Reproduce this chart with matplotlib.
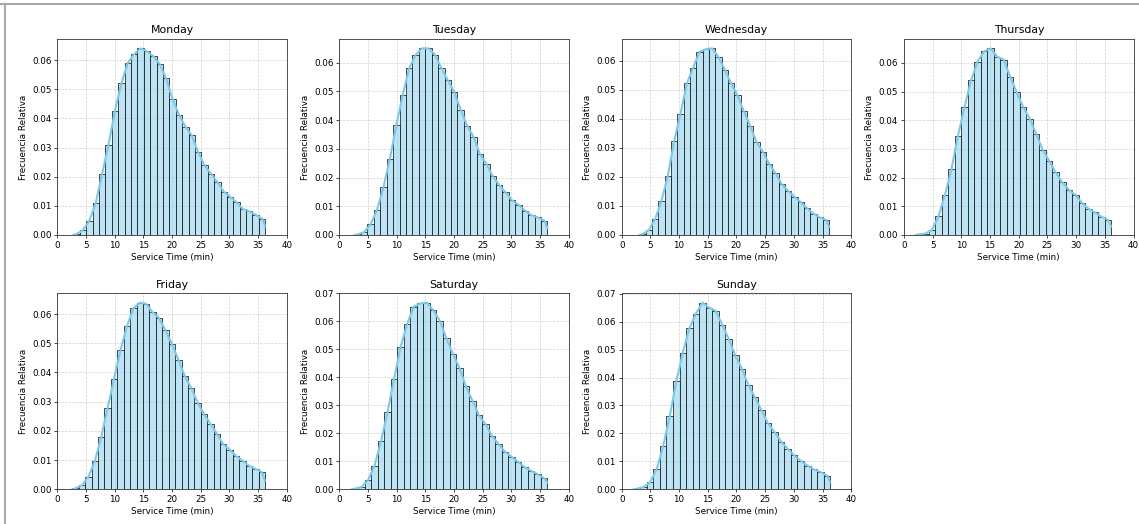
import matplotlib
matplotlib.use('Agg')
import matplotlib.pyplot as plt
from matplotlib.lines import Line2D
import numpy as np

days = ['Monday', 'Tuesday', 'Wednesday', 'Thursday', 'Friday', 'Saturday', 'Sunday']

# min / max service time per day (bin range), 30 bins each
t_min = [2.8, 2.65, 3.08, 2.03, 2.62, 2.15, 2.09]
t_max = [36.25, 36.28, 36.16, 36.1, 36.2, 36.28, 36.35]

# relative frequency (density) per bin
monday = [0.0003, 0.0017, 0.0049, 0.011, 0.021, 0.031, 0.0426, 0.052, 0.059, 0.062,
          0.064, 0.063, 0.0613, 0.0586, 0.0537, 0.0466, 0.0413, 0.0372, 0.0342, 0.0284,
          0.0239, 0.021, 0.0182, 0.0149, 0.0131, 0.0112, 0.0089, 0.0081, 0.0069, 0.0056]
tuesday = [0.0002, 0.001, 0.0037, 0.0087, 0.0166, 0.0266, 0.0382, 0.0488, 0.058, 0.0627,
           0.065, 0.065, 0.0628, 0.0582, 0.0539, 0.0498, 0.0437, 0.0381, 0.0342, 0.0282,
           0.0248, 0.0204, 0.0174, 0.0148, 0.0121, 0.0105, 0.0085, 0.0069, 0.0061, 0.005]
wednesday = [0.0003, 0.0017, 0.0055, 0.0118, 0.0204, 0.0324, 0.0417, 0.0522, 0.0576, 0.0631,
             0.064, 0.0643, 0.0613, 0.057, 0.0522, 0.0481, 0.0427, 0.0377, 0.032, 0.0287,
             0.0246, 0.0213, 0.0175, 0.0152, 0.0132, 0.0113, 0.0092, 0.0074, 0.0061, 0.0052]
thursday = [0.0002, 0.0005, 0.0018, 0.0065, 0.0139, 0.023, 0.0346, 0.0447, 0.0539, 0.0605,
            0.064, 0.0651, 0.0622, 0.0612, 0.0552, 0.0498, 0.0447, 0.0406, 0.0353, 0.0296,
            0.0258, 0.0218, 0.0184, 0.0158, 0.014, 0.0113, 0.0092, 0.0079, 0.0064, 0.0053]
friday = [0.0003, 0.0014, 0.0043, 0.0096, 0.0179, 0.0279, 0.0378, 0.0477, 0.0558, 0.0619,
          0.0639, 0.0635, 0.0606, 0.0586, 0.0544, 0.0498, 0.0444, 0.0388, 0.0348, 0.0297,
          0.0258, 0.0224, 0.019, 0.0154, 0.0136, 0.0114, 0.0098, 0.0081, 0.007, 0.0059]
saturday = [0.0002, 0.0008, 0.0032, 0.0084, 0.0171, 0.0276, 0.0394, 0.0509, 0.059, 0.0652,
            0.0664, 0.0667, 0.064, 0.0603, 0.0541, 0.0484, 0.0435, 0.0368, 0.0317, 0.0265,
            0.0233, 0.0191, 0.0162, 0.0134, 0.0116, 0.0098, 0.0079, 0.0066, 0.0054, 0.0039]
sunday = [0.0002, 0.0008, 0.0025, 0.0071, 0.0155, 0.0261, 0.0386, 0.0489, 0.0576, 0.0629,
          0.0668, 0.065, 0.0639, 0.0589, 0.0539, 0.0479, 0.0432, 0.0374, 0.0329, 0.0283,
          0.0236, 0.0205, 0.0171, 0.0145, 0.0121, 0.0102, 0.0085, 0.0071, 0.0062, 0.0049]
heights = [monday, tuesday, wednesday, thursday, friday, saturday, sunday]

# kde value at the right end of the data
kde_end = [0.003, 0.0025, 0.0028, 0.003, 0.003, 0.0025, 0.0025]

W, H = 1139, 524
fig = plt.figure(figsize=(W / 100, H / 100), dpi=100)

col_left = [57.3, 339.3, 621.7, 904.0]
row_bottom = [235.0, 489.3]
ax_w, ax_h = 229.5, 196.0

for i, day in enumerate(days):
    r, c = divmod(i, 4)
    ax = fig.add_axes([col_left[c] / W, 1 - row_bottom[r] / H, ax_w / W, ax_h / H])
    ax.set_axisbelow(True)
    h = np.array(heights[i])
    edges = np.linspace(t_min[i], t_max[i], len(h) + 1)
    widths = np.diff(edges)
    ax.bar(edges[:-1], h, width=widths, align='edge',
           facecolor=(0.53, 0.81, 0.92, 0.55), edgecolor=(0.15, 0.15, 0.15, 0.85), linewidth=0.7)
    centers = edges[:-1] + widths / 2
    kx = np.concatenate([[t_min[i]], centers, [t_max[i]]])
    ky = np.concatenate([[0], h, [kde_end[i]]])
    ax.plot(kx, ky, color='#7cc9ea', lw=1.5, solid_joinstyle='round')

    ax.set_xlim(0, 40)
    ax.set_xticks(range(0, 41, 5))
    ax.set_title(day, fontsize=7.8, pad=4)
    ax.set_xlabel('Service Time (min)', fontsize=6.3, labelpad=2)
    ax.set_ylabel('Frecuencia Relativa', fontsize=6.3, labelpad=3)
    ax.tick_params(labelsize=6.3, length=2.2, width=0.5, pad=2)
    ax.grid(True, linestyle='--', color='#b0b0b0', alpha=0.6, linewidth=0.5)
    for s in ax.spines.values():
        s.set_linewidth(0.6)
        s.set_color('#333333')

# screenshot frame on the top and left
fig.add_artist(Line2D([0, 1], [1 - 3.5 / H, 1 - 3.5 / H], color='#a8a8a8', lw=1.5))
fig.add_artist(Line2D([5 / W, 5 / W], [0, 1 - 3.5 / H], color='#a8a8a8', lw=1.5))

fig.savefig('out.png', dpi=100)
